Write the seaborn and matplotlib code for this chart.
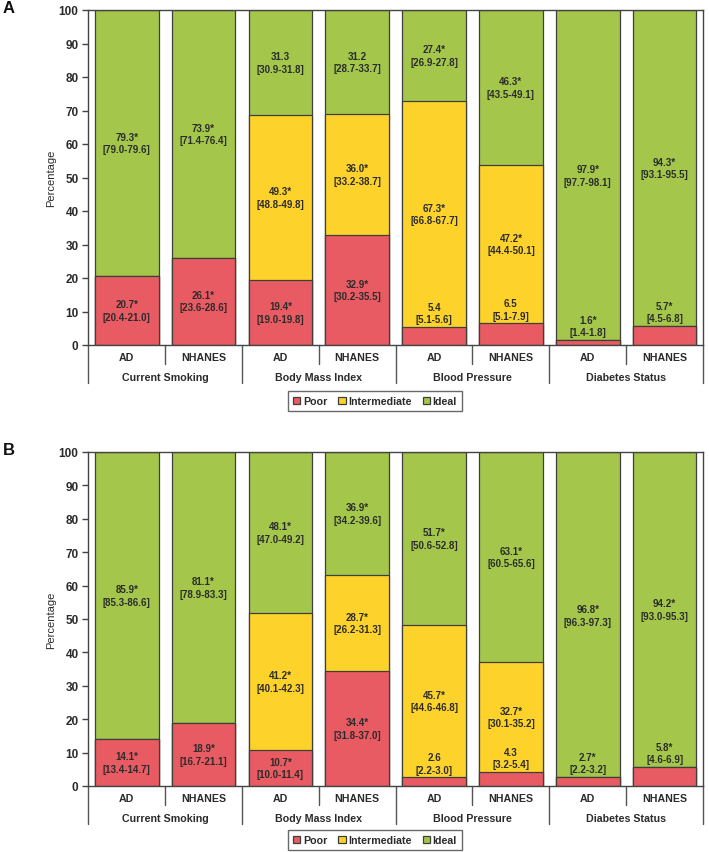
import numpy as np
import pandas as pd
import matplotlib
matplotlib.use("Agg")
import matplotlib.pyplot as plt
from matplotlib.patches import Patch
import seaborn as sns

nan = np.nan
groups = ["Current Smoking", "Body Mass Index", "Blood Pressure", "Diabetes Status"]
cohorts = ["AD", "NHANES"]
levels = ["Poor", "Intermediate", "Ideal"]
total_pct = 100.0

# Panel A
A_poor = [20.7, 26.1, 19.4, 32.9, 5.4, 6.5, 1.6, 5.7]
A_poor_star = [1, 1, 1, 1, 0, 0, 1, 1]
A_poor_lo = [20.4, 23.6, 19.0, 30.2, 5.1, 5.1, 1.4, 4.5]
A_poor_hi = [21.0, 28.6, 19.8, 35.5, 5.6, 7.9, 1.8, 6.8]
A_inter = [0, 0, 49.3, 36.0, 67.3, 47.2, 0, 0]
A_inter_star = [0, 0, 1, 1, 1, 1, 0, 0]
A_inter_lo = [nan, nan, 48.8, 33.2, 66.8, 44.4, nan, nan]
A_inter_hi = [nan, nan, 49.8, 38.7, 67.7, 50.1, nan, nan]
A_ideal = [79.3, 73.9, 31.3, 31.2, 27.4, 46.3, 97.9, 94.3]
A_ideal_star = [1, 1, 0, 0, 1, 1, 1, 1]
A_ideal_lo = [79.0, 71.4, 30.9, 28.7, 26.9, 43.5, 97.7, 93.1]
A_ideal_hi = [79.6, 76.4, 31.8, 33.7, 27.8, 49.1, 98.1, 95.5]

# Panel B
B_poor = [14.1, 18.9, 10.7, 34.4, 2.6, 4.3, 2.7, 5.8]
B_poor_star = [1, 1, 1, 1, 0, 0, 1, 1]
B_poor_lo = [13.4, 16.7, 10.0, 31.8, 2.2, 3.2, 2.2, 4.6]
B_poor_hi = [14.7, 21.1, 11.4, 37.0, 3.0, 5.4, 3.2, 6.9]
B_inter = [0, 0, 41.2, 28.7, 45.7, 32.7, 0, 0]
B_inter_star = [0, 0, 1, 1, 1, 1, 0, 0]
B_inter_lo = [nan, nan, 40.1, 26.2, 44.6, 30.1, nan, nan]
B_inter_hi = [nan, nan, 42.3, 31.3, 46.8, 35.2, nan, nan]
B_ideal = [85.9, 81.1, 48.1, 36.9, 51.7, 63.1, 96.8, 94.2]
B_ideal_star = [1, 1, 1, 1, 1, 1, 1, 1]
B_ideal_lo = [85.3, 78.9, 47.0, 34.2, 50.6, 60.5, 96.3, 93.0]
B_ideal_hi = [86.6, 83.3, 49.2, 39.6, 52.8, 65.6, 97.3, 95.3]

colors = {"Poor": "#E95B63", "Intermediate": "#FDD22B", "Ideal": "#A4C74B"}
edge = "#3f3f3a"
txt = "#2b2b2b"

sns.set_theme(style="white")
plt.rcParams["font.family"] = ["Liberation Sans", "DejaVu Sans"]

fig = plt.figure(figsize=(7.09, 8.53), dpi=100)
W, H = 709.0, 853.0

bars = [f"{g}|{c}" for g in groups for c in cohorts]
LBL = 7.7
VAL = 7.0


def draw_panel(ax, poor, pstar, plo, phi, inter, istar, ilo, ihi, ideal, dstar, dlo, dhi, letter, legend_y):
    df = pd.DataFrame({"bar": bars, "poor": poor, "inter": inter, "ideal": ideal})
    df["c_poor"] = df["poor"]
    df["c_inter"] = df["poor"] + df["inter"]
    df["c_ideal"] = total_pct  # stacked percentages fill to 100
    for col, lvl in [("c_ideal", "Ideal"), ("c_inter", "Intermediate"), ("c_poor", "Poor")]:
        sns.barplot(data=df, x="bar", y=col, order=bars, color=colors[lvl], saturation=1,
                    width=0.83, edgecolor=edge, linewidth=0.9, errorbar=None, ax=ax)
    ax.set_xlim(-0.5, len(bars) - 0.5)
    ax.set_ylim(0, 100)
    ax.set_yticks(np.arange(0, 101, 10))
    ax.set_yticklabels([str(v) for v in range(0, 101, 10)], fontsize=8.5, fontweight="bold", color=txt)
    ax.set_xticks([])
    ax.set_xlabel("")
    ax.set_ylabel("Percentage", fontsize=8, color=txt, labelpad=2)
    ax.tick_params(axis="y", direction="out", length=4, width=1, color="#444444", left=True, pad=3)
    for s in ax.spines.values():
        s.set_visible(True)
        s.set_color("#444444")
        s.set_linewidth(1.0)

    segs = [(poor, pstar, plo, phi, np.zeros(8)),
            (inter, istar, ilo, ihi, np.array(poor, float)),
            (ideal, dstar, dlo, dhi, np.array(poor, float) + np.array(inter, float))]
    for vals, stars, los, his, bots in segs:
        for i, v in enumerate(vals):
            if v <= 0:
                continue
            lab = f"{v:.1f}{'*' if stars[i] else ''}\n[{los[i]:.1f}-{his[i]:.1f}]"
            if v >= 8:
                ax.text(i, bots[i] + v / 2, lab, ha="center", va="center", fontsize=VAL,
                        fontweight="bold", color=txt, linespacing=1.3)
            else:
                ax.text(i, bots[i] + v + 0.8, lab, ha="center", va="bottom", fontsize=VAL,
                        fontweight="bold", color=txt, linespacing=1.3)

    tr = ax.get_xaxis_transform()
    axh = ax.get_position().height * H
    for i, b in enumerate(bars):
        g, c = b.split("|")
        ax.text(i, -12.5 / axh, c, transform=tr, ha="center", va="center", fontsize=LBL,
                fontweight="bold", color=txt)
    for gi, g in enumerate(groups):
        ax.text(gi * 2 + 0.5, -32 / axh, g, transform=tr, ha="center", va="center",
                fontsize=LBL, fontweight="bold", color=txt)
    for k in range(len(groups)):
        ax.plot([2 * k + 0.5, 2 * k + 0.5], [0, -19 / axh], transform=tr, color="#555555",
                lw=1.0, clip_on=False)
    for k in range(len(groups) + 1):
        x = 2 * k - 0.5
        ax.plot([x, x], [0, -38 / axh], transform=tr, color="#555555", lw=1.0, clip_on=False)

    fig.text(3 / W, ax.get_position().y1 + 2 / H, letter, fontsize=12, fontweight="bold",
             color="#111111", ha="left", va="center")

    handles = [Patch(facecolor=colors[l], edgecolor=edge, linewidth=0.9, label=l) for l in levels]
    leg = fig.legend(handles=handles, loc="center", bbox_to_anchor=(375 / W, legend_y),
                     ncol=3, frameon=True, fancybox=False, fontsize=LBL,
                     handlelength=0.7, handleheight=0.7, handletextpad=0.25,
                     columnspacing=1.0, borderpad=0.45)
    leg.get_frame().set_edgecolor("#444444")
    leg.get_frame().set_linewidth(1.0)
    for t in leg.get_texts():
        t.set_fontweight("bold")
        t.set_color(txt)


left = 88.3 / W
width = (703 - 88.3) / W
axA = fig.add_axes([left, 1 - 346 / H, width, (346 - 11) / H])
axB = fig.add_axes([left, 1 - 787 / H, width, (787 - 453) / H])

draw_panel(axA, A_poor, A_poor_star, A_poor_lo, A_poor_hi, A_inter, A_inter_star, A_inter_lo,
           A_inter_hi, A_ideal, A_ideal_star, A_ideal_lo, A_ideal_hi, "A", 1 - 402 / H)
draw_panel(axB, B_poor, B_poor_star, B_poor_lo, B_poor_hi, B_inter, B_inter_star, B_inter_lo,
           B_inter_hi, B_ideal, B_ideal_star, B_ideal_lo, B_ideal_hi, "B", 1 - 841 / H)

fig.savefig("out.png", dpi=100)
